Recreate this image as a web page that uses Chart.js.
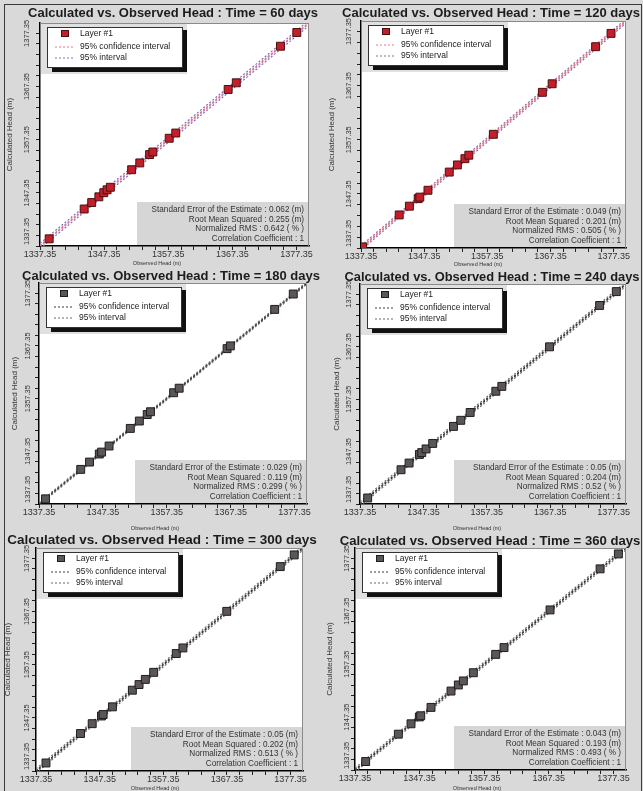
<!DOCTYPE html>
<html>
<head>
<meta charset="utf-8">
<script src="https://cdn.jsdelivr.net/npm/chart.js@4.4.1/dist/chart.umd.min.js"></script>
<style>
  html, body { margin: 0; padding: 0; width: 643px; height: 791px; overflow: hidden; background: #d9d9d9; }
  #frame { position: absolute; left: 4px; top: 4px; width: 636px; height: 790px; border: 1px solid #3a3a3a; border-bottom: none; }
  canvas { position: absolute; }
</style>
</head>
<body>
<div id="frame"></div>
<canvas id="c60"></canvas>
<canvas id="c120"></canvas>
<canvas id="c180"></canvas>
<canvas id="c240"></canvas>
<canvas id="c300"></canvas>
<canvas id="c360"></canvas>
<script>
// axis ticks (labelled ones) and range
const majorTicks = [1337.35, 1347.35, 1357.35, 1367.35, 1377.35];
const minorStep = 2;
const axisMin = 1337.35;
const axisMax = 1379.3;
const diagX = [1337.35, 1379.3];

// observed / calculated heads
const obs60  = [1338.78, 1344.24, 1345.41, 1346.53, 1347.30, 1347.81, 1348.32, 1351.64, 1352.91, 1354.44, 1354.95, 1357.50, 1358.52, 1366.69, 1367.96, 1374.85, 1377.40];
const calc60 = [1338.70, 1344.31, 1345.52, 1346.60, 1347.38, 1347.92, 1348.40, 1351.70, 1352.98, 1354.55, 1355.03, 1357.62, 1358.60, 1366.80, 1368.05, 1374.93, 1377.52];

const obs120  = [1337.61, 1343.40, 1345.01, 1346.40, 1346.66, 1347.95, 1351.32, 1352.61, 1353.80, 1354.42, 1358.30, 1366.06, 1367.61, 1374.49, 1376.93];
const calc120 = [1337.55, 1343.46, 1345.08, 1346.47, 1346.75, 1348.02, 1351.38, 1352.70, 1353.86, 1354.50, 1358.36, 1366.12, 1367.70, 1374.55, 1377.01];

const obs180  = [1338.37, 1343.88, 1345.26, 1346.79, 1347.15, 1348.32, 1351.64, 1353.06, 1354.29, 1354.80, 1358.42, 1359.29, 1366.79, 1367.30, 1374.24, 1377.15];
const calc180 = [1338.33, 1343.92, 1345.31, 1346.84, 1347.20, 1348.36, 1351.70, 1353.10, 1354.33, 1354.86, 1358.47, 1359.33, 1366.84, 1367.36, 1374.29, 1377.21];

const obs240  = [1338.56, 1343.82, 1345.09, 1346.72, 1347.09, 1347.77, 1348.82, 1352.09, 1353.24, 1354.72, 1358.77, 1359.72, 1367.24, 1375.14, 1377.77];
const calc240 = [1338.50, 1343.88, 1345.16, 1346.80, 1347.15, 1347.85, 1348.90, 1352.15, 1353.31, 1354.80, 1358.85, 1359.78, 1367.32, 1375.21, 1377.85];

const obs300  = [1338.92, 1344.35, 1346.18, 1347.64, 1347.90, 1349.36, 1352.49, 1353.54, 1354.53, 1355.84, 1359.39, 1360.43, 1367.32, 1375.73, 1377.92];
const calc300 = [1338.86, 1344.40, 1346.25, 1347.70, 1347.97, 1349.42, 1352.55, 1353.61, 1354.58, 1355.91, 1359.45, 1360.50, 1367.38, 1375.80, 1378.00];

const obs360  = [1339.00, 1344.06, 1346.02, 1347.31, 1347.52, 1349.12, 1352.21, 1353.35, 1354.12, 1355.67, 1359.13, 1360.42, 1367.54, 1375.29, 1378.12];
const calc360 = [1338.95, 1344.12, 1346.08, 1347.38, 1347.60, 1349.18, 1352.27, 1353.42, 1354.18, 1355.73, 1359.20, 1360.48, 1367.60, 1375.36, 1378.18];

// half widths of the 95% confidence interval and 95% interval (m)
const confHalf = [0.12, 0.10, 0.06, 0.10, 0.10, 0.09];
const predHalf = [0.50, 0.40, 0.24, 0.41, 0.40, 0.39];

// statistics boxes
const stats60  = ["0.062", "0.255", "0.642", "1"];
const stats120 = ["0.049", "0.201", "0.505", "1"];
const stats180 = ["0.029", "0.119", "0.299", "1"];
const stats240 = ["0.05", "0.204", "0.52", "1"];
const stats300 = ["0.05", "0.202", "0.513", "1"];
const stats360 = ["0.043", "0.193", "0.493", "1"];
const statNames = ["Standard Error of the Estimate", "Root Mean Squared", "Normalized RMS", "Correlation Coefficient"];
const statUnits = [" (m)", " (m)", " ( % )", ""];

const legendLabels = ["Layer #1", "95% confidence interval", "95% interval"];
const xTitle = "Observed Head (m)";
const yTitle = "Calculated Head (m)";

const FONT = '"Liberation Sans", Arial, sans-serif';

const themes = {
  red:  { fill: "#c41e2a", edge: "#4a1010", conf: "#e8788a", pred: "#7b6cc0" },
  rose: { fill: "#c41e2a", edge: "#4a1010", conf: "#e8788a", pred: "#9a6a9a" },
  gray: { fill: "#5d5656", edge: "#1e1e1e", conf: "#3a3a3a", pred: "#6a6a6a" }
};

const panels = [
  { days: 60,  obs: obs60,  calc: calc60,  stats: stats60,  theme: "red",
    canvas: [5, 5, 317, 265],   area: [40, 23, 309, 246],   title: [173, 13, 290], yTitleX: 10,  yLabX: 27,  xTitlePos: [157, 263] },
  { days: 120, obs: obs120, calc: calc120, stats: stats120, theme: "rose",
    canvas: [322, 5, 318, 265], area: [361, 21, 626, 248],  title: [491, 13, 298], yTitleX: 332, yLabX: 349, xTitlePos: [478, 264] },
  { days: 180, obs: obs180, calc: calc180, stats: stats180, theme: "gray",
    canvas: [5, 268, 317, 265], area: [39, 283, 307, 504],  title: [171, 276, 298], yTitleX: 15,  yLabX: 28,  xTitlePos: [155, 528] },
  { days: 240, obs: obs240, calc: calc240, stats: stats240, theme: "gray",
    canvas: [322, 268, 318, 265], area: [360, 284, 626, 504], title: [492, 277, 295], yTitleX: 337, yLabX: 349, xTitlePos: [477, 528] },
  { days: 300, obs: obs300, calc: calc300, stats: stats300, theme: "gray",
    canvas: [5, 533, 317, 258], area: [36, 548, 303, 771],  title: [162, 540, 310], yTitleX: 8,   yLabX: 27,  xTitlePos: [155, 788] },
  { days: 360, obs: obs360, calc: calc360, stats: stats360, theme: "gray",
    canvas: [322, 533, 318, 258], area: [355, 548, 626, 770], title: [490, 541, 301], yTitleX: 330, yLabX: 347, xTitlePos: [477, 788] }
];

const tickValues = [];
for (let v = axisMin; v <= axisMax; v += minorStep) tickValues.push(+v.toFixed(2));
const isMajor = (v) => majorTicks.some((m) => Math.abs(m - v) < 0.001);

function makeDecor(p) {
  const [cx, cy] = p.canvas;
  const th = themes[p.theme];
  return {
    id: "decor" + p.days,
    beforeDraw(chart) {
      const { ctx, chartArea: a } = chart;
      ctx.save();
      ctx.fillStyle = "#ffffff";
      ctx.fillRect(a.left, a.top, a.right - a.left, a.bottom - a.top);
      ctx.restore();
    },
    afterDraw(chart) {
      const { ctx, chartArea: a } = chart;
      const yScale = chart.scales.y;
      ctx.save();

      // thin top / right frame
      ctx.strokeStyle = "#8a8a8a";
      ctx.lineWidth = 1;
      ctx.beginPath();
      ctx.moveTo(a.left, a.top + 0.5);
      ctx.lineTo(a.right - 0.5, a.top + 0.5);
      ctx.lineTo(a.right - 0.5, a.bottom);
      ctx.stroke();

      // title fitted to its width
      const text = "Calculated vs. Observed Head : Time = " + p.days + " days";
      ctx.font = "bold 12px " + FONT;
      const size = 12 * p.title[2] / ctx.measureText(text).width;
      ctx.font = "bold " + size.toFixed(2) + "px " + FONT;
      ctx.fillStyle = "#1c1c1c";
      ctx.textAlign = "center";
      ctx.textBaseline = "middle";
      ctx.fillText(text, p.title[0] - cx, p.title[1] - cy);

      // y tick labels, rotated
      ctx.font = "7.5px " + FONT;
      ctx.fillStyle = "#333";
      majorTicks.forEach((v) => {
        const label = v.toFixed(2);
        const half = ctx.measureText(label).width / 2;
        const py = Math.min(yScale.getPixelForValue(v), a.bottom - half - 1);
        ctx.save();
        ctx.translate(p.yLabX - cx, py);
        ctx.rotate(-Math.PI / 2);
        ctx.fillText(label, 0, 0);
        ctx.restore();
      });

      // axis titles
      ctx.font = "8px " + FONT;
      ctx.save();
      ctx.translate(p.yTitleX - cx, (a.top + a.bottom) / 2);
      ctx.rotate(-Math.PI / 2);
      ctx.fillText(yTitle, 0, 0);
      ctx.restore();
      ctx.font = "5.5px " + FONT;
      ctx.fillText(xTitle, p.xTitlePos[0] - cx, p.xTitlePos[1] - cy);

      // legend
      const l = a.left, t = a.top;
      ctx.fillStyle = "#e0e0e0";
      ctx.fillRect(l + 1, t + 1, 146, 50);
      ctx.fillStyle = "#111";
      ctx.fillRect(l + 12, t + 44, 135, 5);
      ctx.fillRect(l + 142, t + 7, 5, 42);
      ctx.fillStyle = "#fff";
      ctx.fillRect(l + 7, t + 4, 135, 40);
      ctx.strokeStyle = "#333";
      ctx.strokeRect(l + 7.5, t + 4.5, 135, 40);
      ctx.fillStyle = th.fill;
      ctx.fillRect(l + 21, t + 7, 8, 7);
      ctx.strokeStyle = th.edge;
      ctx.strokeRect(l + 21.5, t + 7.5, 7, 6);
      ctx.lineWidth = 1.2;
      ctx.setLineDash([2, 2]);
      [[th.conf, 24], [th.pred, 35]].forEach(([col, dy]) => {
        ctx.strokeStyle = col;
        ctx.beginPath();
        ctx.moveTo(l + 15, t + dy);
        ctx.lineTo(l + 33, t + dy);
        ctx.stroke();
      });
      ctx.setLineDash([]);
      ctx.fillStyle = "#222";
      ctx.textAlign = "left";
      ctx.font = "8.5px " + FONT;
      legendLabels.forEach((lab, i) => ctx.fillText(lab, l + 40, t + [11, 24, 35][i]));

      // statistics box
      ctx.fillStyle = "#d6d6d6";
      ctx.fillRect(a.right - 172, a.bottom - 44, 171, 43);
      ctx.fillStyle = "#333";
      ctx.textAlign = "right";
      ctx.font = "8.2px " + FONT;
      statNames.forEach((name, i) => {
        ctx.fillText(name + " : " + p.stats[i] + statUnits[i], a.right - 5, a.bottom - 36 + 9.5 * i);
      });
      ctx.restore();
    }
  };
}

panels.forEach((p, idx) => {
  const [cx, cy, cw, ch] = p.canvas;
  const [al, at, ar, ab] = p.area;
  const th = themes[p.theme];
  const canvas = document.getElementById("c" + p.days);
  canvas.width = cw;
  canvas.height = ch;
  canvas.style.left = cx + "px";
  canvas.style.top = cy + "px";

  const xAxisH = 14;
  const line = (half, sign, color) => ({
    data: diagX.map((x) => ({ x, y: x + sign * half })),
    showLine: true, pointRadius: 0, borderColor: color, borderWidth: 1.2,
    borderDash: [2, 2], fill: false, order: 2
  });

  new Chart(canvas, {
    type: "scatter",
    data: {
      datasets: [
        {
          label: legendLabels[0],
          data: p.obs.map((x, i) => ({ x, y: p.calc[i] })),
          pointStyle: "rect", pointRadius: 5.6, backgroundColor: th.fill,
          borderColor: th.edge, borderWidth: 1, order: 0
        },
        line(predHalf[idx], -1, th.pred),
        line(predHalf[idx], 1, th.pred),
        line(confHalf[idx], -1, th.conf),
        line(confHalf[idx], 1, th.conf),
        line(0, 1, th.pred)
      ]
    },
    options: {
      responsive: false,
      animation: false,
      events: [],
      layout: { padding: { left: 0, top: at - cy, right: cx + cw - ar, bottom: cy + ch - ab - xAxisH } },
      plugins: { legend: { display: false }, tooltip: { enabled: false }, title: { display: false } },
      scales: {
        x: {
          type: "linear", min: axisMin, max: axisMax,
          afterBuildTicks: (s) => { s.ticks = tickValues.map((value) => ({ value })); },
          afterFit: (s) => { s.height = xAxisH; s.paddingLeft = 0; s.paddingRight = 0; },
          grid: { drawOnChartArea: false, drawTicks: true, tickLength: 4, tickColor: "#222" },
          border: { color: "#000", width: 1.5 },
          ticks: {
            autoSkip: false, maxRotation: 0, minRotation: 0, padding: -1, color: "#333",
            font: { family: FONT, size: 9 },
            callback: (v) => (isMajor(v) ? v.toFixed(2) : "")
          }
        },
        y: {
          type: "linear", min: axisMin, max: axisMax,
          afterBuildTicks: (s) => { s.ticks = tickValues.map((value) => ({ value })); },
          afterFit: (s) => { s.width = al - cx; s.paddingTop = 0; s.paddingBottom = 0; },
          grid: { drawOnChartArea: false, drawTicks: true, tickLength: 4, tickColor: "#222" },
          border: { color: "#000", width: 1.5 },
          ticks: { display: false }
        }
      }
    },
    plugins: [makeDecor(p)]
  });
});
</script>
</body>
</html>
